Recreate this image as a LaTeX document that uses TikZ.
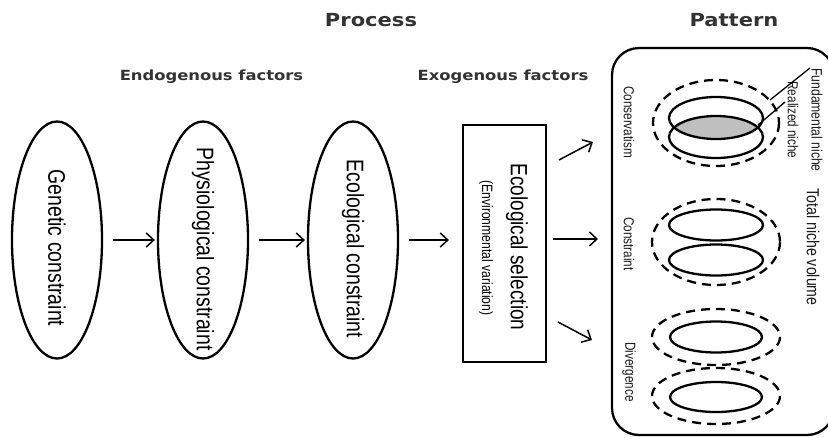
\documentclass[tikz,border=0pt]{standalone}
\usepackage{fontspec}
\usetikzlibrary{arrows.meta,shapes.geometric,calc}
\newfontfamily\titlefont[FakeStretch=1.17]{DejaVu Sans}
\newfontfamily\narrowfont[FakeStretch=0.81]{Liberation Sans}
\definecolor{titlegray}{HTML}{333333}
\definecolor{lblgray}{HTML}{1A1A1A}
\tikzset{
  ell/.style={draw,ellipse,line width=2.3pt,minimum width=90pt,minimum height=237pt,inner sep=0pt},
  selbox/.style={draw,rectangle,line width=2.3pt,minimum width=83pt,minimum height=237pt,inner sep=0pt},
  patbox/.style={draw,rectangle,rounded corners=27pt,line width=2.3pt,minimum width=222pt,minimum height=387pt,inner sep=0pt},
  vlbl/.style={rotate=-90,inner sep=0pt,font=\narrowfont\fontsize{24}{26}\selectfont},
  smlbl/.style={rotate=-90,inner sep=0pt,text=lblgray},
  ttl/.style={inner sep=0pt,text=titlegray,font=\titlefont\bfseries\fontsize{18}{20}\selectfont},
  subttl/.style={inner sep=0pt,text=titlegray,font=\titlefont\bfseries\fontsize{14}{16}\selectfont},
  arr/.style={line width=1.5pt,-{Straight Barb[length=7.5pt,width=14pt,line width=1.5pt]}},
  solidell/.style={line width=2.3pt},
  dashell/.style={line width=2.3pt,dash pattern=on 9pt off 6pt},
  leader/.style={line width=1.3pt}
}
\begin{document}
\begin{tikzpicture}[x=1pt,y=-1pt]
\useasboundingbox (0,0) rectangle (828,437);
\clip (0,0) rectangle (828,437);
% titles
\node[ttl] (process) at (371,20) {Process};
\node[ttl] (pattern) at (734,20) {Pattern};
\node[subttl] (endo) at (211.5,77) {Endogenous factors};
\node[subttl] (exo) at (503,77) {Exogenous factors};
% process ellipses
\node[ell] (e1) at (57,240) {};
\node[ell] (e2) at (203,240) {};
\node[ell] (e3) at (353,240) {};
\node[vlbl] (t1) at (57,248) {Genetic constraint};
\node[vlbl] (t2) at (203,249) {Physiological constraint};
\node[vlbl] (t3) at (353,249) {Ecological constraint};
\node[selbox] (sel) at (504.5,243.5) {};
\node[vlbl,font=\narrowfont\fontsize{23.5}{25}\selectfont] (selt) at (517,247) {Ecological selection};
\node[vlbl,font=\narrowfont\fontsize{15}{17}\selectfont] (selv) at (486,248) {(Environmental variation)};
% arrows between stages
\draw[arr,shorten <=10pt,shorten >=2pt] (e1.east) -- (e2.west);
\draw[arr,shorten <=10pt,shorten >=2pt] (e2.east) -- (e3.west);
\draw[arr,shorten <=10pt,shorten >=13pt] (e3.east) -- (sel.west |- e3.east);
% pattern box
\node[patbox] (pat) at (723,241.5) {};
\coordinate (a1s) at (559,160); \coordinate (a1e) at (593,142);
\coordinate (a2s) at (553,239); \coordinate (a2e) at (598,239);
\coordinate (a3s) at (558,322); \coordinate (a3e) at (592,340);
\draw[arr] (a1s) -- (a1e);
\draw[arr] (a2s) -- (a2e);
\draw[arr] (a3s) -- (a3e);
% conservatism
\begin{scope}
  \clip (716,118) ellipse (47 and 21);
  \fill[gray!50] (716,137) ellipse (47 and 21);
\end{scope}
\draw[solidell] (716,118) ellipse (47 and 21);
\draw[solidell] (716,137) ellipse (47 and 21);
\draw[dashell] (716,123) ellipse (63 and 43);
% constraint
\draw[solidell] (716,225) ellipse (47 and 15.5);
\draw[solidell] (716,260) ellipse (47 and 15.5);
\draw[dashell] (716,242) ellipse (64 and 43);
% divergence
\draw[solidell] (716,337) ellipse (46 and 15.5);
\draw[dashell] (716,337) ellipse (64 and 28);
\draw[solidell] (716,397) ellipse (46 and 15);
\draw[dashell] (716,396) ellipse (64 and 28);
% labels
\node[smlbl,font=\narrowfont\fontsize{14.5}{16}\selectfont] (lcons) at (629,122) {Conservatism};
\node[smlbl,font=\narrowfont\fontsize{14.5}{16}\selectfont] (lconstr) at (629,244) {Constraint};
\node[smlbl,font=\narrowfont\fontsize{14.5}{16}\selectfont] (ldiv) at (629,372) {Divergence};
\node[smlbl,font=\narrowfont\fontsize{15}{17}\selectfont] (lfund) at (817,120) {Fundamental niche};
\node[smlbl,font=\narrowfont\fontsize{14.5}{16}\selectfont] (lreal) at (793,120) {Realized niche};
\node[smlbl,font=\narrowfont\fontsize{17.5}{19}\selectfont] (ltot) at (813,247) {Total niche volume};
\coordinate (f1) at (810,68); \coordinate (f2) at (770,100);
\coordinate (r1) at (785,102); \coordinate (r2) at (758,125);
\draw[leader] (f1) -- (f2);
\draw[leader] (r1) -- (r2);
\end{tikzpicture}
\end{document}
